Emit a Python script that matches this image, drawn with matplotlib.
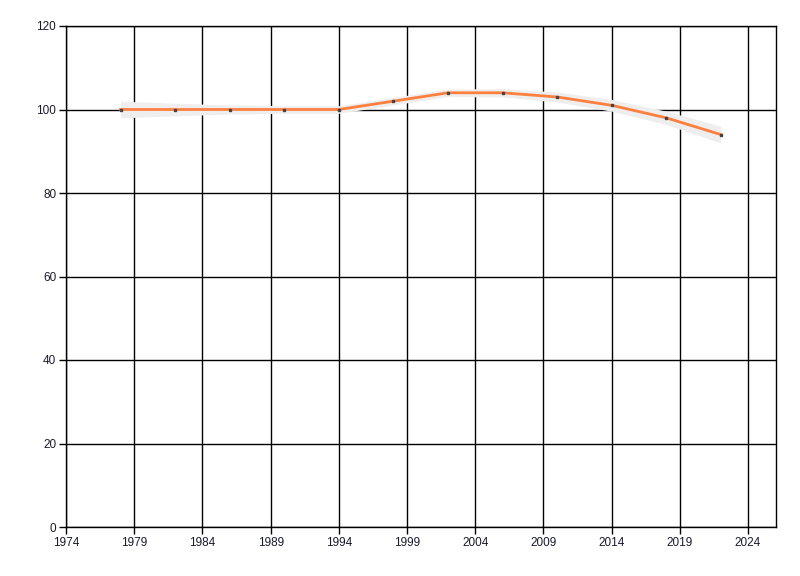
import matplotlib
matplotlib.use("Agg")
import matplotlib.pyplot as plt

years = [1978, 1982, 1986, 1990, 1994, 1998, 2002, 2006, 2010, 2014, 2018, 2022]
values = [100, 100, 100, 100, 100, 102, 104, 104, 103, 101, 98, 94]
lower = [98, 98.5, 98.9, 99.1, 99.1, 101.1, 103.1, 103.0, 101.8, 99.6, 96.4, 92]
upper = [102, 101.5, 101.1, 100.9, 100.9, 102.9, 104.9, 105.0, 104.2, 102.4, 99.6, 96]
xticks = [1974, 1979, 1984, 1989, 1994, 1999, 2004, 2009, 2014, 2019, 2024]
yticks = [0, 20, 40, 60, 80, 100, 120]

fig = plt.figure(figsize=(8, 5.76), dpi=100)
ax = fig.add_axes([66/800, 1-527/576, 710/800, 501/576])
ax.fill_between(years, lower, upper, color="#eeeeee", lw=0, zorder=2)
ax.plot(years, values, color="#ff7f3f", lw=2, zorder=3)
ax.plot(years, values, ls="none", marker="s", ms=2, color="#444444", zorder=4)

ax.set_xlim(1974, 2026.05)
ax.set_ylim(0, 120)
ax.set_xticks(xticks)
ax.set_yticks(yticks)
ax.grid(True, color="black", lw=1, zorder=1)
ax.set_axisbelow(True)
for s in ax.spines.values():
    s.set_color("black")
    s.set_linewidth(1)
ax.tick_params(axis="both", direction="out", length=5, width=1, color="black",
               labelsize=8.5, labelcolor="#1a1a2e", pad=2)
for lab in ax.get_xticklabels() + ax.get_yticklabels():
    lab.set_family("Liberation Sans")
fig.savefig("out.png", dpi=100)
